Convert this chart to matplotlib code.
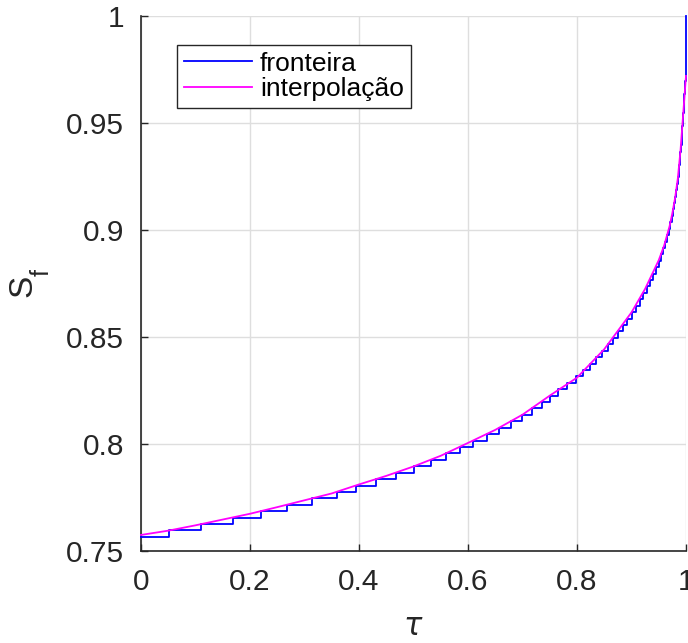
import matplotlib
matplotlib.use("Agg")
import matplotlib.pyplot as plt

# --- data ---
# "fronteira": staircase corner points (tau, S_f)
fronteira_tau = [0, 0.0514, 0.111, 0.168, 0.220, 0.268, 0.314, 0.360, 0.394, 0.431,
                 0.468, 0.501, 0.532, 0.560, 0.585, 0.609, 0.635, 0.657, 0.679, 0.699,
                 0.717, 0.735, 0.750, 0.765, 0.782, 0.798, 0.8115, 0.824, 0.8355, 0.8465,
                 0.857, 0.8665, 0.8755, 0.8841, 0.8924, 0.9002, 0.9077, 0.9149, 0.9216, 0.9280,
                 0.9340, 0.9396, 0.9449, 0.9497, 0.9542, 0.9583, 0.9621, 0.9655, 0.9685, 0.9712,
                 0.9737, 0.9760, 0.9781, 0.9800, 0.9818, 0.9834, 0.9849, 0.9863, 0.9876, 0.9888,
                 0.9899, 0.9909, 0.9918, 0.9927, 0.9935, 0.9943, 0.9951, 0.9958, 0.9965, 0.9972,
                 0.9979, 0.9986, 0.9993, 1.0]
fronteira_sf = [0.7566, 0.7596, 0.7626, 0.7656, 0.7686, 0.7716, 0.7746, 0.7776, 0.7806, 0.7836,
                0.7866, 0.7896, 0.7926, 0.7956, 0.7986, 0.8016, 0.8046, 0.8076, 0.8106, 0.8136,
                0.8166, 0.8196, 0.8226, 0.8256, 0.8286, 0.8316, 0.8346, 0.8376, 0.8406, 0.8436,
                0.8466, 0.8496, 0.8526, 0.8556, 0.8586, 0.8616, 0.8646, 0.8676, 0.8706, 0.8736,
                0.8766, 0.8796, 0.8826, 0.8856, 0.8886, 0.8916, 0.8946, 0.8976, 0.9006, 0.9036,
                0.9066, 0.9096, 0.9126, 0.9156, 0.9186, 0.9216, 0.9246, 0.9276, 0.9306, 0.9336,
                0.9366, 0.9396, 0.9426, 0.9456, 0.9486, 0.9516, 0.9546, 0.9576, 0.9606, 0.9636,
                0.9666, 0.9696, 0.9726, 1.0]

# "interpolação": smooth curve (tau, S_f)
interp_tau = [0.0, 0.05, 0.10, 0.15, 0.20, 0.25, 0.30, 0.35, 0.40, 0.45, 0.50, 0.55,
              0.60, 0.65, 0.70, 0.75, 0.80, 0.85, 0.90, 0.925, 0.95, 0.96, 0.97,
              0.975, 0.98, 0.985, 0.99, 1.0]
interp_sf = [0.7575, 0.7595, 0.7620, 0.7647, 0.7674, 0.7705, 0.7737, 0.7769, 0.7811, 0.7851,
             0.7895, 0.7945, 0.8005, 0.8066, 0.8137, 0.8226, 0.8310, 0.8443, 0.8615, 0.8725,
             0.8859, 0.8928, 0.9019, 0.9079, 0.9150, 0.9241, 0.9374, 0.9720]

x_ticks = [0, 0.2, 0.4, 0.6, 0.8, 1.0]
x_tick_labels = ["0", "0.2", "0.4", "0.6", "0.8", "1"]
y_ticks = [0.75, 0.80, 0.85, 0.90, 0.95, 1.0]
y_tick_labels = ["0.75", "0.8", "0.85", "0.9", "0.95", "1"]

plt.rcParams['font.family'] = ['Liberation Sans', 'DejaVu Sans']
axcol = '#262626'

fig = plt.figure(figsize=(6.88, 6.43), dpi=100)
ax = fig.add_axes([141/688, 92/643, 545/688, 535/643])

ax.step(fronteira_tau, fronteira_sf, where='post', color='#0000ff', lw=1.3,
        label='fronteira', clip_on=False, zorder=3)
ax.plot(interp_tau, interp_sf, color='#ff00ff', lw=1.3, label='interpolação',
        clip_on=False, zorder=4)

ax.set_xlim(0, 1)
ax.set_ylim(0.75, 1)
ax.set_xticks(x_ticks)
ax.set_xticklabels(x_tick_labels)
ax.set_yticks(y_ticks)
ax.set_yticklabels(y_tick_labels)
ax.grid(True, color='#dedede', lw=1.0)
ax.set_axisbelow(True)

for s in ['top', 'right']:
    ax.spines[s].set_visible(False)
for s in ['left', 'bottom']:
    ax.spines[s].set_color(axcol)
    ax.spines[s].set_linewidth(1.2)

ax.tick_params(direction='in', length=5, width=1.0, colors=axcol, labelsize=21.5)
ax.tick_params(axis='x', pad=12)
ax.tick_params(axis='y', pad=12)

ax.set_xlabel(r'$\tau$', fontsize=22, color=axcol, labelpad=12)

# y label "S" with subscript "f" (rotated)
fig.text(23/688, 1 - 286/643, 'S', rotation=90, ha='center', va='center',
         fontsize=24, color=axcol)
fig.text(42/688, 1 - 272/643, 'f', rotation=90, ha='center', va='center',
         fontsize=18, color=axcol)

leg = ax.legend(loc='upper left', bbox_to_anchor=(36/545, 1 - 29/535), fontsize=19,
                frameon=True, fancybox=False, edgecolor='#262626', framealpha=1,
                handlelength=2.6, handletextpad=0.3, borderpad=0.25, labelspacing=0.05,
                borderaxespad=0)
leg.get_frame().set_linewidth(1.0)

fig.savefig('out.png', dpi=100)
